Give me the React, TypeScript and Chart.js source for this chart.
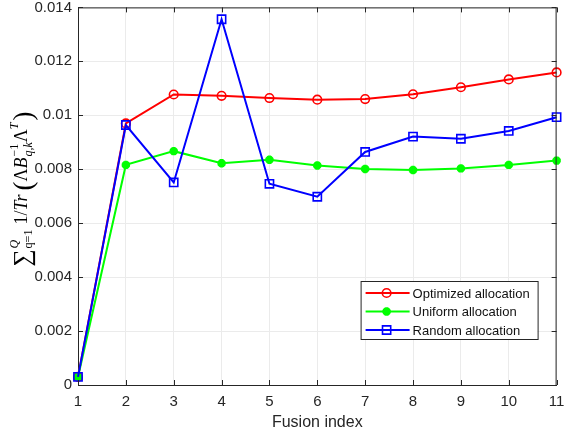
import { useEffect, useRef } from 'react'
import { Chart, registerables } from 'chart.js'
import { drawPoint } from 'chart.js/helpers'

Chart.register(...registerables)

// values
const fusionIndex = [1, 2, 3, 4, 5, 6, 7, 8, 9, 10, 11]
const optimized = [0.0003, 0.0097, 0.01077, 0.01072, 0.01064, 0.01058, 0.0106, 0.01078, 0.01104, 0.01133, 0.01159]
const uniform = [0.0003, 0.00816, 0.00867, 0.00822, 0.00835, 0.00814, 0.00801, 0.00797, 0.00803, 0.00816, 0.00832]
const random = [0.0003, 0.00964, 0.00751, 0.01356, 0.00746, 0.00698, 0.00864, 0.00921, 0.00913, 0.00942, 0.00993]
const yTicks = [0, 0.002, 0.004, 0.006, 0.008, 0.01, 0.012, 0.014]

const SANS = '"Liberation Sans", Arial, Helvetica, sans-serif'
const SERIF = '"Liberation Serif", "Times New Roman", serif'
const AXIS = '#262626'
const GRID = '#ebebeb'

// y label: sum_{q=1}^{Q} 1/Tr ( Λ B_{q,k}^{-1} Λ^T ), drawn as rotated text pieces
function drawYLabel(ctx: CanvasRenderingContext2D, cx: number, cy: number) {
  const font = (size: number, italic = false) => `${italic ? 'italic ' : ''}${size}px ${SERIF}`
  const run = (draw: boolean, x0: number) => {
    let x = x0
    const put = (t: string, size: number, italic = false, dy = 0) => {
      ctx.font = font(size, italic)
      if (draw) ctx.fillText(t, x, dy)
      const w = ctx.measureText(t).width
      x += w
      return w
    }
    const stack = (sup: string, supIt: boolean, sub: string, subIt: boolean) => {
      const start = x
      const w1 = put(sup, 12, supIt, -9)
      x = start
      const w2 = put(sub, 12, subIt, 5)
      x = start + Math.max(w1, w2)
    }
    put('\u2211', 24, false, 3)
    x += 1
    stack('Q', true, 'q=1', false)
    x += 5
    put('1/', 18)
    put('Tr', 18, true)
    x += 4
    put('(', 27, false, 5)
    put('\u039B', 18)
    put('B', 18, true)
    x += 1
    stack('\u22121', false, 'q,k', true)
    put('\u039B', 18)
    put('T', 12, true, -9)
    x += 2
    put(')', 27, false, 5)
    return x - x0
  }
  ctx.save()
  ctx.translate(cx, cy)
  ctx.rotate(-Math.PI / 2)
  ctx.fillStyle = '#000'
  ctx.textBaseline = 'alphabetic'
  ctx.textAlign = 'left'
  const w = run(false, 0)
  run(true, -w / 2)
  ctx.restore()
}

const matlabLook = {
  id: 'matlabLook',
  afterDraw(chart: Chart) {
    const { ctx, chartArea } = chart
    const { left, right, top, bottom } = chartArea
    const xs = chart.scales.x
    const ys = chart.scales.y
    ctx.save()
    // box and inward ticks
    ctx.strokeStyle = AXIS
    ctx.lineWidth = 1
    ctx.beginPath()
    ctx.moveTo(left, top + 0.5)
    ctx.lineTo(right, top + 0.5)
    ctx.moveTo(right - 0.5, top)
    ctx.lineTo(right - 0.5, bottom)
    xs.ticks.forEach((_, i) => {
      const px = Math.round(xs.getPixelForTick(i)) + 0.5
      ctx.moveTo(px, bottom)
      ctx.lineTo(px, bottom - 5)
      ctx.moveTo(px, top)
      ctx.lineTo(px, top + 5)
    })
    ys.ticks.forEach((t) => {
      const py = Math.round(ys.getPixelForValue(t.value)) + 0.5
      ctx.moveTo(left, py)
      ctx.lineTo(left + 5, py)
      ctx.moveTo(right, py)
      ctx.lineTo(right - 5, py)
    })
    ctx.stroke()

    // legend box
    const bx = right - 196
    const by = bottom - 104
    const bw = 177
    const bh = 58
    ctx.fillStyle = '#fff'
    ctx.fillRect(bx, by, bw, bh)
    ctx.strokeStyle = AXIS
    ctx.strokeRect(bx + 0.5, by + 0.5, bw, bh)
    ctx.font = `13px ${SANS}`
    ctx.textBaseline = 'middle'
    ctx.textAlign = 'left'
    chart.data.datasets.forEach((ds: any, i: number) => {
      const yy = by + 12 + i * 18.5
      ctx.strokeStyle = ds.borderColor
      ctx.fillStyle = ds.pointBackgroundColor
      ctx.lineWidth = 2
      ctx.beginPath()
      ctx.moveTo(bx + 5, yy)
      ctx.lineTo(bx + 49, yy)
      ctx.stroke()
      ctx.lineWidth = ds.pointBorderWidth
      drawPoint(ctx, { pointStyle: ds.pointStyle, radius: ds.pointRadius, rotation: 0, borderWidth: ds.pointBorderWidth }, bx + 26, yy)
      ctx.fillStyle = '#111'
      ctx.fillText(ds.label, bx + 52, yy + 1)
    })
    ctx.restore()

    drawYLabel(ctx, 27, 189)
  },
}

export default function App() {
  const canvasRef = useRef<HTMLCanvasElement>(null)

  useEffect(() => {
    if (!canvasRef.current) return
    const tickFont = { family: SANS, size: 15 }

    const chart = new Chart(canvasRef.current, {
      type: 'line',
      data: {
        labels: fusionIndex.map(String),
        datasets: [
          {
            label: 'Optimized allocation',
            data: optimized,
            borderColor: '#ff0000',
            borderWidth: 2,
            pointStyle: 'circle',
            pointRadius: 4.3,
            pointBorderWidth: 1.6,
            pointBorderColor: '#ff0000',
            pointBackgroundColor: 'rgba(0,0,0,0)',
            tension: 0,
            order: 3,
          },
          {
            label: 'Uniform allocation',
            data: uniform,
            borderColor: '#00ff00',
            borderWidth: 2,
            pointStyle: 'star',
            pointRadius: 4.2,
            pointBorderWidth: 3,
            pointBorderColor: '#00ff00',
            pointBackgroundColor: '#00ff00',
            tension: 0,
            order: 2,
          },
          {
            label: 'Random allocation',
            data: random,
            borderColor: '#0000ff',
            borderWidth: 2,
            pointStyle: 'rect',
            pointRadius: 5.8,
            pointBorderWidth: 1.6,
            pointBorderColor: '#0000ff',
            pointBackgroundColor: 'rgba(0,0,0,0)',
            tension: 0,
            order: 1,
          },
        ],
      },
      options: {
        responsive: false,
        animation: false,
        layout: { padding: { top: 6, right: 7, left: 0, bottom: 0 } },
        plugins: { legend: { display: false }, tooltip: { enabled: false } },
        scales: {
          x: {
            type: 'category',
            offset: false,
            grid: { color: GRID, drawTicks: false },
            border: { display: true, color: AXIS, width: 1 },
            ticks: { font: tickFont, color: AXIS, padding: 8, maxRotation: 0, autoSkip: false },
            title: {
              display: true,
              text: 'Fusion index',
              color: AXIS,
              font: { family: SANS, size: 16 },
              padding: { top: 0, bottom: -2 },
            },
            afterFit: (s: any) => {
              s.height = 45
              s.paddingLeft = 0
              s.paddingRight = 0
            },
          },
          y: {
            min: yTicks[0],
            max: yTicks[yTicks.length - 1],
            grid: { color: GRID, drawTicks: false },
            border: { display: true, color: AXIS, width: 1 },
            ticks: {
              stepSize: yTicks[1] - yTicks[0],
              font: tickFont,
              color: AXIS,
              padding: 6,
              callback: (v: any) => String(parseFloat(Number(v).toFixed(3))),
            },
            afterFit: (s: any) => {
              s.width = 78
              s.paddingTop = 0
              s.paddingBottom = 0
            },
          },
        },
      },
      plugins: [matlabLook],
    })

    return () => chart.destroy()
  }, [])

  return (
    <div style={{ position: 'fixed', left: 0, top: 0, width: 564, height: 430, background: '#fff' }}>
      <canvas ref={canvasRef} width={564} height={430} style={{ display: 'block' }} />
    </div>
  )
}
